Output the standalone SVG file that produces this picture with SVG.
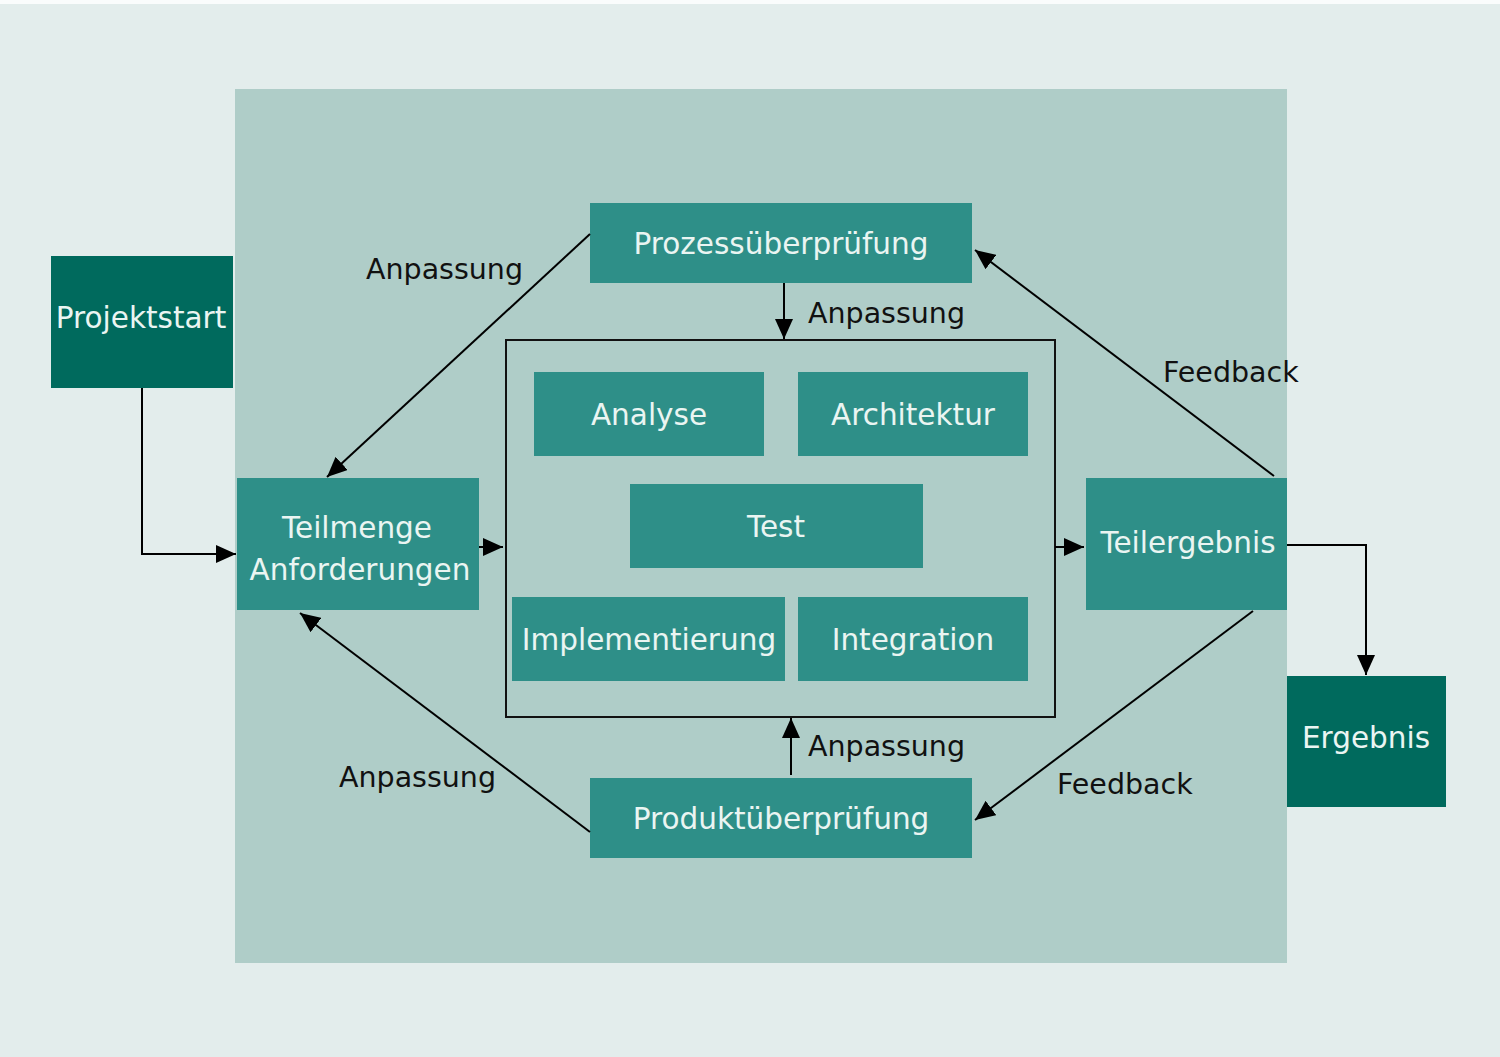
<svg xmlns="http://www.w3.org/2000/svg" width="1500" height="1057" viewBox="0 0 1500 1057">
<defs>
<marker id="ah" markerUnits="userSpaceOnUse" markerWidth="22" markerHeight="18" refX="20" refY="9" orient="auto">
<path d="M0,0 L20,9 L0,18 Z" fill="#000"/>
</marker>
<style>
.box{fill:#2e8f88}
.dark{fill:#006a5d}
.bt{font-family:"DejaVu Sans","Liberation Sans",sans-serif;font-size:29.5px;fill:#eaf5f2;text-anchor:middle}
.lb{font-family:"DejaVu Sans","Liberation Sans",sans-serif;font-size:28.5px;fill:#111}
.c{fill:none;stroke:#000;stroke-width:2}
</style>
</defs>
<rect x="0" y="0" width="1500" height="1057" fill="#fafcfc"/>
<rect x="0" y="4" width="1500" height="1053" fill="#e3edec"/>
<rect x="235" y="89" width="1052" height="874" fill="#afcdc8"/>
<rect x="506" y="340" width="549" height="377" fill="none" stroke="#111" stroke-width="2"/>

<g id="projektstart"><rect class="dark" x="51" y="256" width="182" height="132"/><text class="bt" x="141" y="328">Projektstart</text></g>
<g id="prozess"><rect class="box" x="590" y="203" width="382" height="80"/><text class="bt" x="781" y="254">Prozessüberprüfung</text></g>
<g id="teilmenge"><rect class="box" x="237" y="478" width="242" height="132"/><text class="bt" x="357" y="538">Teilmenge</text><text class="bt" x="360" y="580">Anforderungen</text></g>
<g id="analyse"><rect class="box" x="534" y="372" width="230" height="84"/><text class="bt" x="649" y="425">Analyse</text></g>
<g id="architektur"><rect class="box" x="798" y="372" width="230" height="84"/><text class="bt" x="913" y="425">Architektur</text></g>
<g id="test"><rect class="box" x="630" y="484" width="293" height="84"/><text class="bt" x="776" y="537">Test</text></g>
<g id="implementierung"><rect class="box" x="512" y="597" width="273" height="84"/><text class="bt" x="649" y="650">Implementierung</text></g>
<g id="integration"><rect class="box" x="798" y="597" width="230" height="84"/><text class="bt" x="913" y="650">Integration</text></g>
<g id="teilergebnis"><rect class="box" x="1086" y="478" width="201" height="132"/><text class="bt" x="1188" y="553">Teilergebnis</text></g>
<g id="ergebnis"><rect class="dark" x="1287" y="676" width="159" height="131"/><text class="bt" x="1366" y="748">Ergebnis</text></g>
<g id="produkt"><rect class="box" x="590" y="778" width="382" height="80"/><text class="bt" x="781" y="829">Produktüberprüfung</text></g>

<g id="connectors">
<path class="c" d="M142,388 V554 H236" marker-end="url(#ah)"/>
<path class="c" d="M590,234 L327,477" marker-end="url(#ah)"/>
<path class="c" d="M784,283 V339" marker-end="url(#ah)"/>
<path class="c" d="M479,547 H503" marker-end="url(#ah)"/>
<path class="c" d="M1055,547 H1084" marker-end="url(#ah)"/>
<path class="c" d="M1274,476 L975,250" marker-end="url(#ah)"/>
<path class="c" d="M1287,545 H1366 V675" marker-end="url(#ah)"/>
<path class="c" d="M1253,611 L975,820" marker-end="url(#ah)"/>
<path class="c" d="M791,775 V718" marker-end="url(#ah)"/>
<path class="c" d="M590,832 L300,613" marker-end="url(#ah)"/>
</g>
<g id="labels">
<text class="lb" x="366" y="279">Anpassung</text>
<text class="lb" x="808" y="323">Anpassung</text>
<text class="lb" x="1163" y="382">Feedback</text>
<text class="lb" x="1057" y="794">Feedback</text>
<text class="lb" x="339" y="787">Anpassung</text>
<text class="lb" x="808" y="756">Anpassung</text>
</g>
</svg>
